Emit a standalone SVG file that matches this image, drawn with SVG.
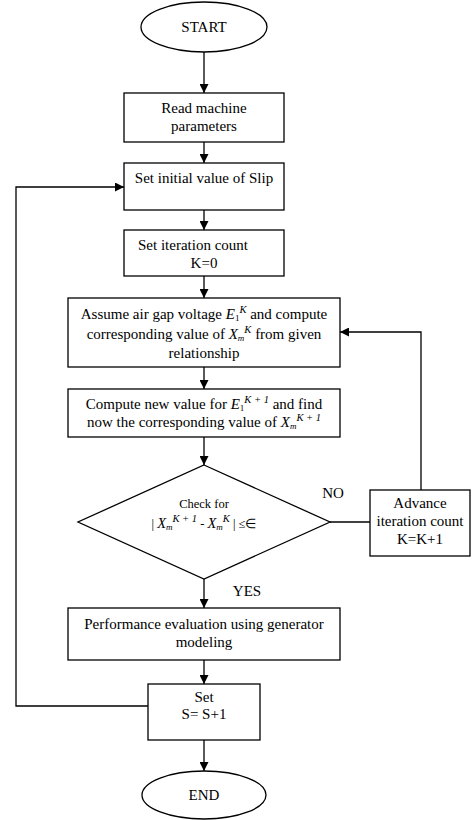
<svg xmlns="http://www.w3.org/2000/svg" width="475" height="820" viewBox="0 0 475 820">
<defs>
<marker id="arr" viewBox="0 0 10 10" refX="10" refY="5" markerWidth="9" markerHeight="9" markerUnits="userSpaceOnUse" orient="auto">
<path d="M0,0 L10,5 L0,10 z" fill="#000"/>
</marker>
<style>
.shape{fill:#fff;stroke:#000;stroke-width:1.3}
.t{font-family:"Liberation Serif","Times New Roman",serif;font-size:15px;fill:#000;text-anchor:middle}
.s{font-size:12.5px}
.i{font-style:italic}
.sub{font-size:9px}
.sup{font-size:10.5px;font-style:italic}
.c{fill:none;stroke:#000;stroke-width:1.3}
.ca{fill:none;stroke:#000;stroke-width:1.3;marker-end:url(#arr)}
</style>
</defs>
<rect width="475" height="820" fill="#fff"/>
<g id="connectors">
<line class="ca" x1="204" y1="52" x2="204" y2="93"/>
<line class="ca" x1="204" y1="142" x2="204" y2="163"/>
<line class="ca" x1="204" y1="210" x2="204" y2="230"/>
<line class="ca" x1="204" y1="276" x2="204" y2="298"/>
<line class="ca" x1="204" y1="367" x2="204" y2="389"/>
<line class="ca" x1="204" y1="437" x2="204" y2="465"/>
<line class="ca" x1="204" y1="579" x2="204" y2="608"/>
<line class="ca" x1="204" y1="660" x2="204" y2="684"/>
<line class="ca" x1="204" y1="740" x2="204" y2="771"/>
<line class="c" x1="330" y1="522" x2="370" y2="522"/>
<polyline class="ca" points="421,490 421,332 340,332"/>
<polyline class="ca" points="148,706 16,706 16,187 124,187"/>
<text class="t" x="333" y="498">NO</text>
<text class="t" x="247" y="596">YES</text>
</g>
<g id="start">
<ellipse class="shape" cx="204" cy="27" rx="63" ry="25"/>
<text class="t" x="204" y="32">START</text>
</g>
<g id="read">
<rect class="shape" x="124" y="93" width="160" height="49"/>
<text class="t" x="204" y="113">Read machine</text>
<text class="t" x="204" y="131">parameters</text>
</g>
<g id="slip">
<rect class="shape" x="124" y="163" width="160" height="47"/>
<text class="t" x="204" y="183">Set initial value of Slip</text>
</g>
<g id="iter">
<rect class="shape" x="124" y="230" width="160" height="46"/>
<text class="t" x="193" y="250">Set iteration count</text>
<text class="t" x="204" y="268">K=0</text>
</g>
<g id="assume">
<rect class="shape" x="68" y="298" width="272" height="69"/>
<text class="t" x="204" y="319">Assume air gap voltage <tspan class="i">E</tspan><tspan class="sub" dy="2">1</tspan><tspan class="sup" dy="-8">K</tspan><tspan dy="6">  and compute</tspan></text>
<text class="t" x="204" y="339">corresponding value of <tspan class="i">X</tspan><tspan class="sub i" dy="2">m</tspan><tspan class="sup" dy="-8">K</tspan><tspan dy="6">  from given</tspan></text>
<text class="t" x="204" y="358">relationship</text>
</g>
<g id="compute">
<rect class="shape" x="68" y="389" width="272" height="48"/>
<text class="t" x="204" y="409">Compute new value for <tspan class="i">E</tspan><tspan class="sub" dy="2">1</tspan><tspan class="sup" dy="-8">K + 1</tspan><tspan dy="6"> and find</tspan></text>
<text class="t" x="204" y="427">now the corresponding value of <tspan class="i">X</tspan><tspan class="sub i" dy="2">m</tspan><tspan class="sup" dy="-8">K + 1</tspan></text>
</g>
<g id="check">
<polygon class="shape" points="204,465 330,522 204,579 78,522"/>
<text class="t s" x="204" y="508">Check for</text>
<text class="t s" x="204" y="528">| <tspan class="i" font-size="14.5">X</tspan><tspan class="sub i" dy="2">m</tspan><tspan class="sup" dy="-8">K + 1</tspan><tspan dy="6"> - </tspan><tspan class="i" font-size="14.5">X</tspan><tspan class="sub i" dy="2">m</tspan><tspan class="sup" dy="-8">K</tspan><tspan dy="6"> | ≤∈</tspan></text>
</g>
<g id="advance">
<rect class="shape" x="370" y="490" width="100" height="66"/>
<text class="t" x="420" y="508">Advance</text>
<text class="t" x="420" y="526">iteration count</text>
<text class="t" x="420" y="544">K=K+1</text>
</g>
<g id="perf">
<rect class="shape" x="68" y="608" width="272" height="52"/>
<text class="t" x="204" y="629">Performance evaluation using generator</text>
<text class="t" x="204" y="647">modeling</text>
</g>
<g id="sets">
<rect class="shape" x="148" y="684" width="112" height="56"/>
<text class="t" x="204" y="702">Set</text>
<text class="t" x="204" y="719">S= S+1</text>
</g>
<g id="end">
<ellipse class="shape" cx="204" cy="795" rx="62" ry="24"/>
<text class="t" x="204" y="800">END</text>
</g>
</svg>
